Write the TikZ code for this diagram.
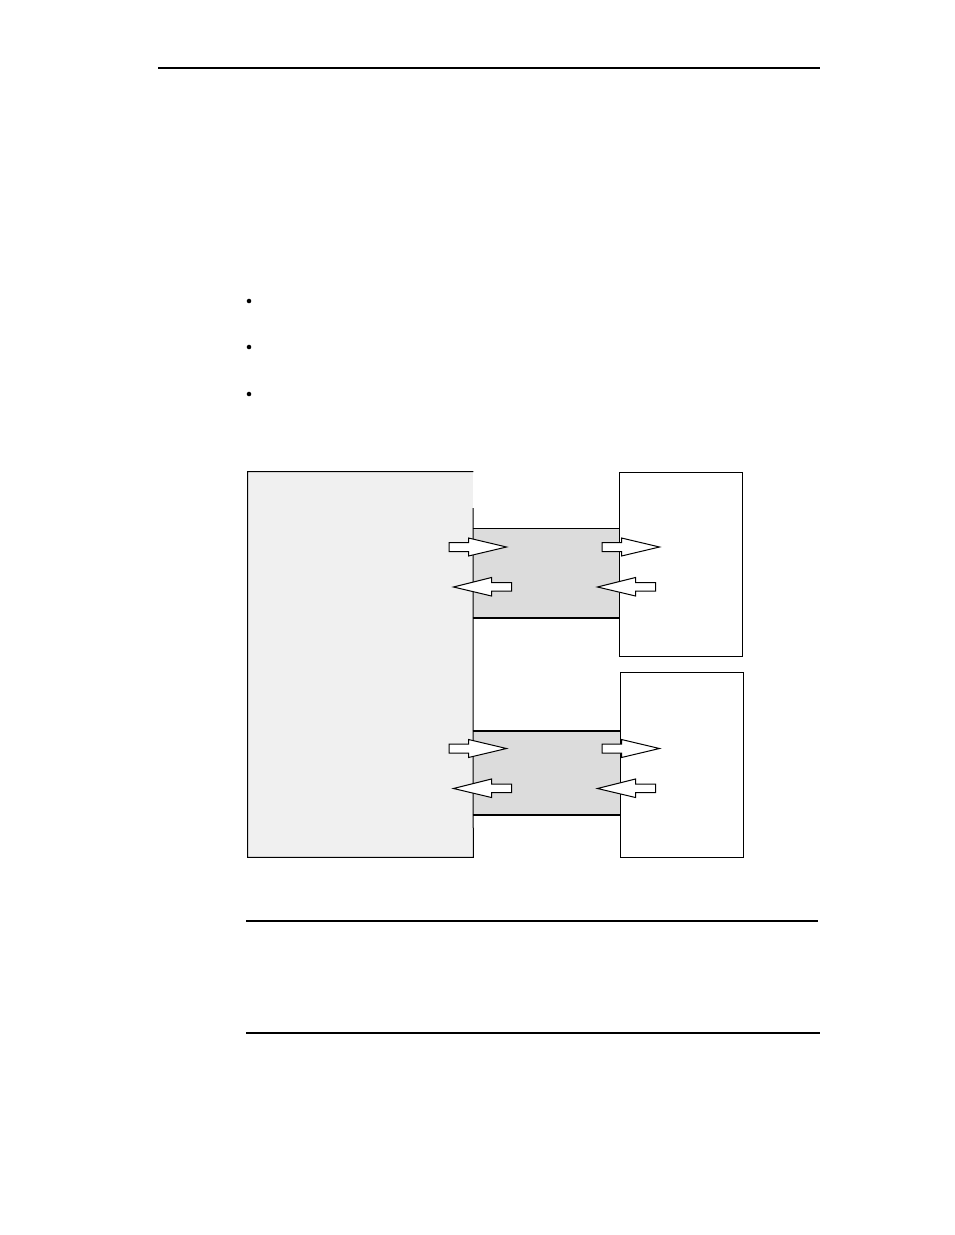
\documentclass[tikz,border=0pt]{standalone}
\usetikzlibrary{fit}
\definecolor{hostgray}{HTML}{F0F0F0}
\definecolor{ifgray}{HTML}{DCDCDC}
\tikzset{
  thinline/.style={draw=black, line width=0.75pt},
  thickline/.style={draw=black, line width=1.5pt},
  rule/.style={draw=black, line width=0.9pt},
  bulletdot/.style={circle, fill=black, inner sep=0pt, minimum size=3.4pt},
  rarrowpic/.pic={\draw[fill=white, line width=0.75pt, line join=miter]
     (0,-4.5) -- (19.5,-4.5) -- (19.5,-9) -- (57.5,0) -- (19.5,9) -- (19.5,4.5) -- (0,4.5) -- cycle;},
  larrowpic/.pic={\draw[fill=white, line width=0.75pt, line join=miter]
     (0,0) -- (38,-9.5) -- (38,-4.5) -- (58,-4.5) -- (58,4) -- (38,4) -- (38,9) -- cycle;}
}
\begin{document}
\begin{tikzpicture}[x=0.75pt, y=-0.75pt]
\useasboundingbox[fill=white] (0,0) rectangle (954,1235);
% page rules
\coordinate (t1) at (158,68);  \coordinate (t2) at (820,68);
\draw[rule] (t1) -- (t2);
\coordinate (m1) at (246,921); \coordinate (m2) at (818,921);
\draw[rule] (m1) -- (m2);
\coordinate (n1) at (246,1033); \coordinate (n2) at (820,1033);
\draw[rule] (n1) -- (n2);
% bullets
\node[bulletdot] (b1) at (249,301) {};
\node[bulletdot] (b2) at (249,347) {};
\node[bulletdot] (b3) at (249,394) {};
% big box fill
\coordinate (hA) at (248,472); \coordinate (hB) at (473,857);
\node[fit=(hA)(hB), inner sep=0pt, fill=hostgray] (host) {};
% upper interface
\coordinate (uA) at (473,529); \coordinate (uB) at (619,618);
\node[fit=(uA)(uB), inner sep=0pt, fill=ifgray] (ifu) {};
\draw[thinline] (ifu.north west) -- (ifu.north east);
\draw[thickline] (ifu.south west) -- (ifu.south east);
% lower interface
\coordinate (lA) at (473,731); \coordinate (lB) at (620,815);
\node[fit=(lA)(lB), inner sep=0pt, fill=ifgray] (ifl) {};
\draw[thickline] (ifl.north west) -- (ifl.north east);
\draw[thickline] (ifl.south west) -- (ifl.south east);
% big box outline (right edge open at the top)
\draw[thinline] (473,508) -- (host.south east) -- (host.south west) -- (host.north west) -- (host.north east);
% right boxes
\coordinate (rA) at (619,472); \coordinate (rB) at (742,656);
\node[fit=(rA)(rB), inner sep=0pt, fill=white, thinline] (devu) {};
\coordinate (sA) at (620,672); \coordinate (sB) at (743,857);
\node[fit=(sA)(sB), inner sep=0pt, fill=white, thinline] (devl) {};
% arrows upper
\pic (a1) at (449,547) {rarrowpic};
\pic (a2) at (602,547) {rarrowpic};
\pic (a3) at (453.5,587) {larrowpic};
\pic (a4) at (597.5,587) {larrowpic};
% arrows lower
\pic (a5) at (449,748.5) {rarrowpic};
\pic (a6) at (602,748.5) {rarrowpic};
\pic (a7) at (453.5,788.5) {larrowpic};
\pic (a8) at (597.5,788.5) {larrowpic};
\end{tikzpicture}
\end{document}
